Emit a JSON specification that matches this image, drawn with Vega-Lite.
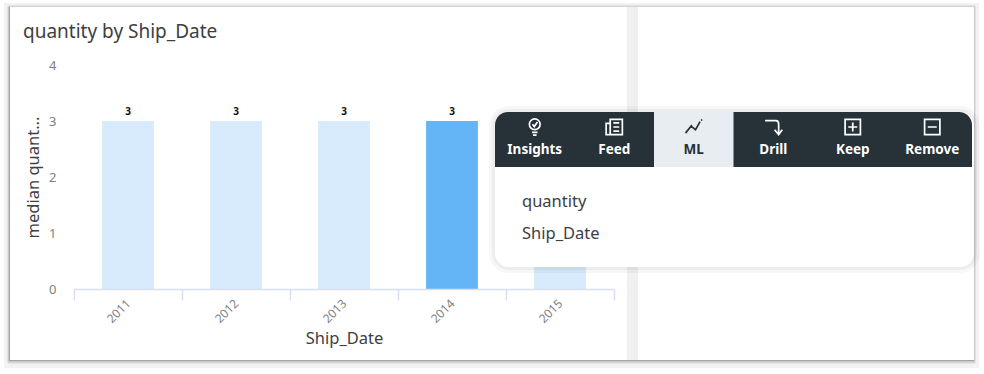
{
"$schema":"https://vega.github.io/schema/vega-lite/v6.json",
"width":540,"height":224,
"autosize":{"type":"none"},
"padding":{"left":74,"top":65,"right":370,"bottom":85},
"background":"#ffffff",
"config":{"view":{"stroke":null},"font":"Noto Sans"},
"title":{"text":"quantity by Ship_Date","anchor":"start","frame":"group","dx":-51,"offset":-39,"fontSize":19,"fontWeight":"normal","color":"#3c4043","font":"Noto Sans"},
"resolve":{"scale":{"x":"independent","y":"independent","color":"independent","shape":"independent","stroke":"independent"}},
"layer":[
{"data":{"name":"sheet","values":[{"part":"sheet"}]},
 "mark":{"type":"rect","fill":"#000000","fillOpacity":0.05,"stroke":"#000000","strokeOpacity":0.05,"strokeWidth":8},
 "encoding":{
  "x":{"field":"part","type":"nominal","axis":null,"scale":{"type":"band","domain":["sheet"],"range":[-66,901],"padding":0}},
  "y":{"field":"part","type":"nominal","axis":null,"scale":{"type":"band","domain":["sheet"],"range":[-58,299],"padding":0}}}},
{"data":{"name":"sheet"},
 "mark":{"type":"rect","fill":"#000000","fillOpacity":0.18,"stroke":"#000000","strokeOpacity":0.12,"strokeWidth":3},
 "encoding":{
  "x":{"field":"part","type":"nominal","axis":null,"scale":{"type":"band","domain":["sheet"],"range":[-65,900],"padding":0}},
  "y":{"field":"part","type":"nominal","axis":null,"scale":{"type":"band","domain":["sheet"],"range":[-58,296],"padding":0}}}},
{"data":{"name":"sheet"},
 "mark":{"type":"rect","fill":"#ffffff"},
 "encoding":{
  "x":{"field":"part","type":"nominal","axis":null,"scale":{"type":"band","domain":["sheet"],"range":[-64,900],"padding":0}},
  "y":{"field":"part","type":"nominal","axis":null,"scale":{"type":"band","domain":["sheet"],"range":[-58,295],"padding":0}}}},
{"data":{"values":[{"part":"divider"}]},
 "mark":{"type":"rect","fill":"#f0f0f0"},
 "encoding":{
  "x":{"field":"part","type":"nominal","axis":null,"scale":{"type":"band","domain":["divider"],"range":[553,564],"padding":0}},
  "y":{"field":"part","type":"nominal","axis":null,"scale":{"type":"band","domain":["divider"],"range":[-58,295],"padding":0}}}},
{"data":{"name":"bars","values":[
  {"Ship_Date":"2011","quantity":3},{"Ship_Date":"2012","quantity":3},{"Ship_Date":"2013","quantity":3},{"Ship_Date":"2014","quantity":3},{"Ship_Date":"2015","quantity":3}]},
 "mark":{"type":"bar","width":{"band":0.48}},
 "encoding":{
  "x":{"field":"Ship_Date","type":"nominal","scale":{"type":"band","padding":0},
   "axis":{"zindex":1,"title":"Ship_Date","titleFontSize":16.5,"titleFontWeight":"normal","titleColor":"#3c4043","titlePadding":6,"labelAngle":-45,"labelColor":"#808080","labelFontSize":12,"labelPadding":1,"labelAlign":"right","labelBaseline":"middle","domainColor":"#d5dfee","domainWidth":1.5,"tickColor":"#d5dfee","tickWidth":1.5,"tickSize":11,"tickBand":"extent"}},
  "y":{"field":"quantity","type":"quantitative","scale":{"domain":[0,4]},
   "axis":{"zindex":1,"title":"median quant...","titleFontSize":16.5,"titleFontWeight":"normal","titleColor":"#3c4043","titlePadding":7,"values":[0,1,2,3,4],"format":"d","labelColor":"#808080","labelFontSize":13,"labelPadding":18,"domain":false,"ticks":false,"grid":false}},
  "color":{"field":"Ship_Date","type":"nominal","legend":null,"scale":{"domain":["2011","2012","2013","2014","2015"],"range":["#d7ebfc","#d7ebfc","#d7ebfc","#64b5f6","#d7ebfc"]}}}},
{"data":{"name":"bars"},
 "transform":[{"filter":"datum.Ship_Date !== '2015'"}],
 "mark":{"type":"text","dy":-9,"fontSize":10,"fontWeight":"bold","color":"#111111"},
 "encoding":{
  "x":{"field":"Ship_Date","type":"nominal","axis":null,"scale":{"type":"band","domain":["2011","2012","2013","2014","2015"],"padding":0}},
  "y":{"field":"quantity","type":"quantitative","axis":null,"scale":{"domain":[0,4]}},
  "text":{"field":"quantity","type":"quantitative"}}},
{"data":{"name":"menu","values":[{"part":"menu"}]},
 "mark":{"type":"rect","fill":"#ffffff","cornerRadius":14,"stroke":"#000000","strokeOpacity":0.03,"strokeWidth":12},
 "encoding":{
  "x":{"field":"part","type":"nominal","axis":null,"scale":{"type":"band","domain":["menu"],"range":[421,900],"padding":0}},
  "y":{"field":"part","type":"nominal","axis":null,"scale":{"type":"band","domain":["menu"],"range":[47,202],"padding":0}}}},
{"data":{"name":"menu"},
 "mark":{"type":"rect","fill":"#ffffff","cornerRadius":14,"stroke":"#000000","strokeOpacity":0.04,"strokeWidth":6},
 "encoding":{
  "x":{"field":"part","type":"nominal","axis":null,"scale":{"type":"band","domain":["menu"],"range":[421,900],"padding":0}},
  "y":{"field":"part","type":"nominal","axis":null,"scale":{"type":"band","domain":["menu"],"range":[47,202],"padding":0}}}},
{"data":{"name":"menu"},
 "mark":{"type":"rect","fill":"#ffffff","cornerRadius":14},
 "encoding":{
  "x":{"field":"part","type":"nominal","axis":null,"scale":{"type":"band","domain":["menu"],"range":[421,900],"padding":0}},
  "y":{"field":"part","type":"nominal","axis":null,"scale":{"type":"band","domain":["menu"],"range":[47,202],"padding":0}}}},
{"data":{"name":"menu"},
 "mark":{"type":"bar","fill":"#263238","cornerRadiusTopLeft":13,"cornerRadiusTopRight":13,"cornerRadiusBottomLeft":0,"cornerRadiusBottomRight":0},
 "encoding":{
  "x":{"field":"part","type":"nominal","axis":null,"scale":{"type":"band","domain":["menu"],"range":[421,898],"padding":0}},
  "y":{"field":"part","type":"nominal","axis":null,"scale":{"type":"band","domain":["menu"],"range":[47,102],"padding":0}}}},
{"data":{"values":[{"tab":"ML"}]},
 "mark":{"type":"rect","fill":"#e8edf2"},
 "encoding":{
  "x":{"field":"tab","type":"nominal","axis":null,"scale":{"type":"band","domain":["Insights","Feed","ML","Drill","Keep","Remove"],"range":[421,898],"padding":0}},
  "y":{"field":"tab","type":"nominal","axis":null,"scale":{"type":"band","domain":["ML"],"range":[47,102],"padding":0}}}},
{"data":{"name":"tabs","values":[{"tab":"Insights"},{"tab":"Feed"},{"tab":"ML"},{"tab":"Drill"},{"tab":"Keep"},{"tab":"Remove"}]},
 "mark":{"type":"point","filled":false,"strokeWidth":1.7,"size":324,"opacity":1},
 "encoding":{
  "x":{"field":"tab","type":"nominal","axis":null,"scale":{"type":"band","domain":["Insights","Feed","ML","Drill","Keep","Remove"],"range":[421,898],"padding":0}},
  "y":{"datum":"icon","type":"nominal","axis":null,"scale":{"type":"band","domain":["icon","label"],"range":[51,95],"padding":0}},
  "stroke":{"field":"tab","type":"nominal","legend":null,"scale":{"domain":["Insights","Feed","ML","Drill","Keep","Remove"],"range":["#ffffff","#ffffff","#263238","#ffffff","#ffffff","#ffffff"]}},
  "shape":{"field":"tab","type":"nominal","legend":null,"scale":{"domain":["Insights","Feed","ML","Drill","Keep","Remove"],"range":[
    "M-0.6,-0.3A0.6,0.6 0 1 1 0.6,-0.3A0.6,0.6 0 1 1 -0.6,-0.3Z M-0.25,-0.3L-0.05,-0.05L0.3,-0.55 M-0.3,0.6L0.3,0.6 M-0.2,0.9L0.2,0.9",
    "M-0.45,-0.85H0.9V0.85H-0.45Z M-0.45,-0.4H-0.9V0.85H-0.45 M-0.1,-0.45H0.55 M-0.1,0H0.55 M-0.1,0.45H0.55",
    "M-0.85,0.6L-0.3,-0.1L0.2,0.3L0.7,-0.6 M-0.95,0.6L-0.7,0.6 M-0.35,-0.2L-0.2,-0.1 M0.15,0.2L0.3,0.3 M0.8,-0.75L0.95,-0.8",
    "M-0.9,-0.7H0.3Q0.6,-0.7 0.6,-0.3V0.8 M0.15,0.3L0.6,0.85L1,0.3",
    "M-0.85,-0.85H0.85V0.85H-0.85Z M-0.5,0H0.5 M0,-0.5V0.5",
    "M-0.85,-0.85H0.85V0.85H-0.85Z M-0.5,0H0.5"]}}}},
{"data":{"name":"tabs"},
 "mark":{"type":"text","fontSize":13.5,"fontWeight":"bold","dy":1},
 "encoding":{
  "x":{"field":"tab","type":"nominal","axis":null,"scale":{"type":"band","domain":["Insights","Feed","ML","Drill","Keep","Remove"],"range":[421,898],"padding":0}},
  "y":{"datum":"label","type":"nominal","axis":null,"scale":{"type":"band","domain":["icon","label"],"range":[51,95],"padding":0}},
  "text":{"field":"tab","type":"nominal"},
  "color":{"field":"tab","type":"nominal","legend":null,"scale":{"domain":["Insights","Feed","ML","Drill","Keep","Remove"],"range":["#ffffff","#ffffff","#263238","#ffffff","#ffffff","#ffffff"]}}}},
{"data":{"values":[{"field":"quantity"},{"field":"Ship_Date"}]},
 "mark":{"type":"text","align":"left","fontSize":16.5,"color":"#3c4043"},
 "encoding":{
  "x":{"datum":"text","type":"nominal","bandPosition":0,"axis":null,"scale":{"type":"band","domain":["text"],"range":[448,900],"padding":0}},
  "y":{"field":"field","type":"nominal","axis":null,"scale":{"type":"band","domain":["quantity","Ship_Date"],"range":[121,185],"padding":0}},
  "text":{"field":"field","type":"nominal"}}}
]
}
